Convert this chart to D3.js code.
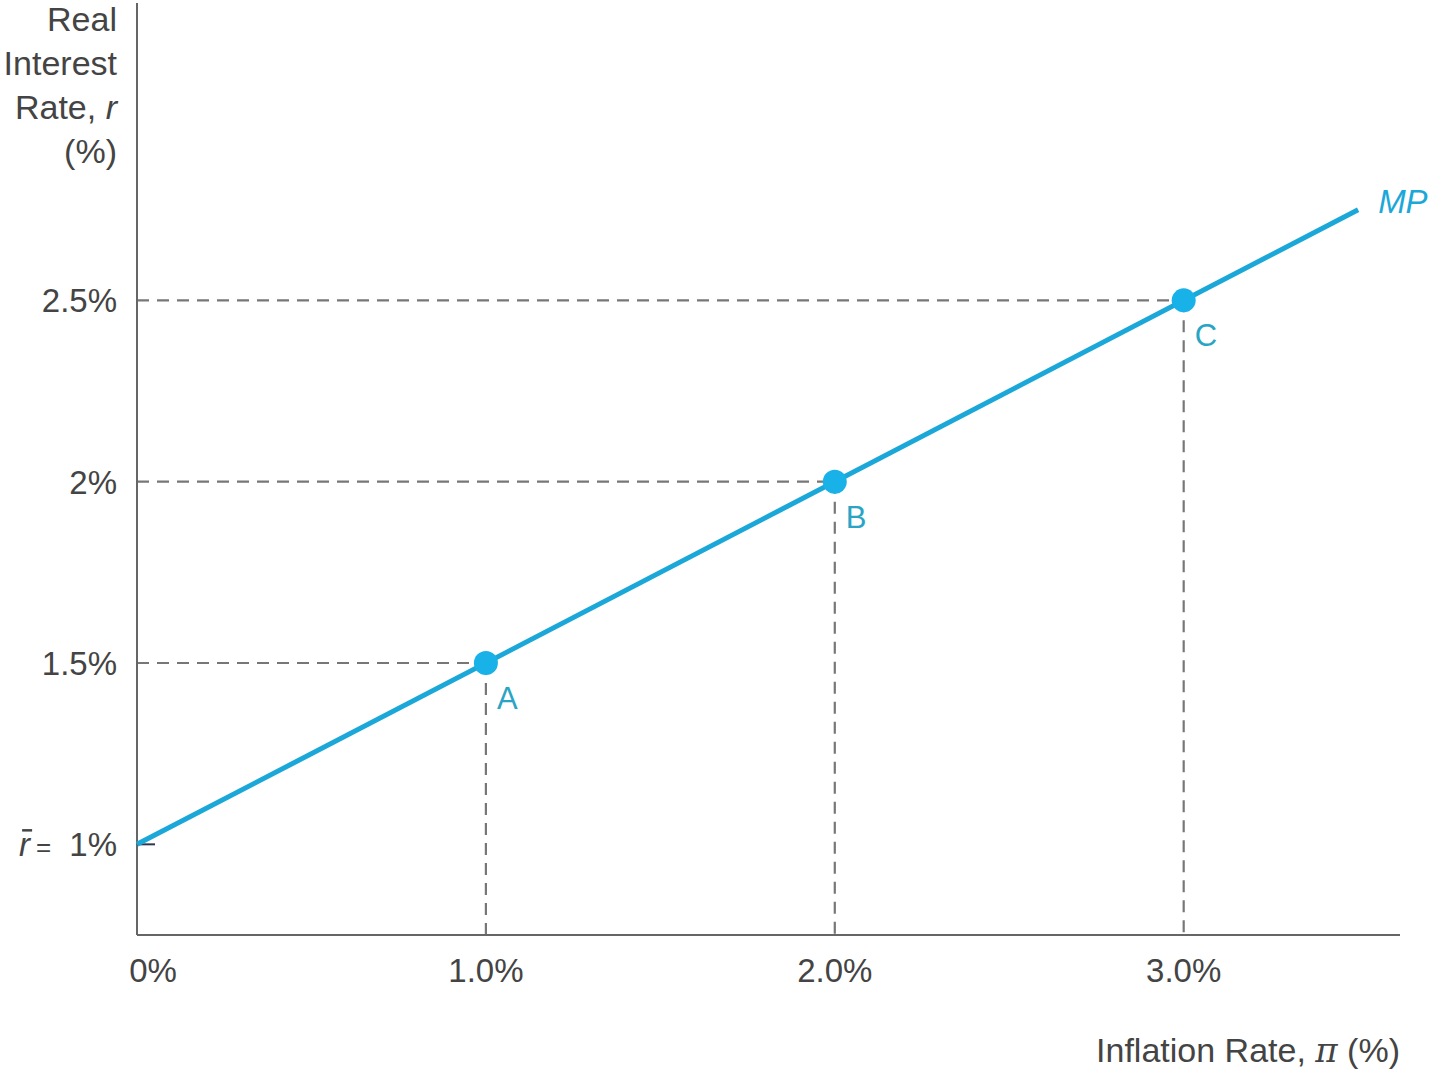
<!DOCTYPE html>
<html>
<head>
<meta charset="utf-8">
<script src="https://cdn.jsdelivr.net/npm/d3@7"></script>
<style>
  html, body { margin: 0; padding: 0; background: #fff; }
  svg { display: block; font-family: "Liberation Sans", Arial, sans-serif; }
</style>
</head>
<body>
<svg id="chart" width="1440" height="1071"></svg>
<script>
// data
const mpLine = [[0, 1], [3.5, 2.75]];          // MP curve: [inflation, real rate]
const points = [
  { name: "A", pi: 1, r: 1.5 },
  { name: "B", pi: 2, r: 2 },
  { name: "C", pi: 3, r: 2.5 }
];
const xTicks = [0, 1, 2, 3];
const xTickLabels = ["0%", "1.0%", "2.0%", "3.0%"];
const yTicks = [1.5, 2, 2.5];
const yTickLabels = ["1.5%", "2%", "2.5%"];
const rBar = 1;
const yTitle = ["Real", "Interest", "Rate, ", "(%)"];

const blue = "#1ba8d9";
const dotBlue = "#18b2e8";
const labelBlue = "#2aa4c4";
const gray = "#666";
const textGray = "#444";
const fs = 33;

const svg = d3.select("#chart");

const x = d3.scaleLinear().domain([0, 3.62]).range([137, 1400]);
const y = d3.scaleLinear().domain([0.75, 3.32]).range([935, 3]);

// dashed guides
const guides = svg.append("g")
    .attr("stroke", "#777").attr("stroke-width", 2.2).attr("stroke-dasharray", "12,8");
points.forEach(p => {
  guides.append("line").attr("x1", x(0)).attr("x2", x(p.pi)).attr("y1", y(p.r)).attr("y2", y(p.r));
  guides.append("line").attr("x1", x(p.pi)).attr("x2", x(p.pi)).attr("y1", y(p.r)).attr("y2", y.range()[0]);
});

// axes
svg.append("line").attr("x1", x(0)).attr("x2", x(0)).attr("y1", y.range()[1]).attr("y2", y.range()[0])
    .attr("stroke", gray).attr("stroke-width", 2);
svg.append("line").attr("x1", x(0)).attr("x2", x.range()[1]).attr("y1", y.range()[0]).attr("y2", y.range()[0])
    .attr("stroke", gray).attr("stroke-width", 2);
// small tick at r-bar
svg.append("line").attr("x1", x(0)).attr("x2", x(0) + 18).attr("y1", y(rBar)).attr("y2", y(rBar))
    .attr("stroke", "#335").attr("stroke-width", 2);

// tick labels
svg.append("g").selectAll("text").data(xTicks).join("text")
    .attr("x", d => x(d) + (d === 0 ? 16 : 0)).attr("y", 982)
    .attr("text-anchor", "middle").attr("font-size", fs).attr("fill", textGray)
    .text((d, i) => xTickLabels[i]);

svg.append("g").selectAll("text").data(yTicks).join("text")
    .attr("x", 117).attr("y", d => y(d) + 12)
    .attr("text-anchor", "end").attr("font-size", fs).attr("fill", textGray)
    .text((d, i) => yTickLabels[i]);

const rLabel = svg.append("text").attr("x", 117).attr("y", y(rBar) + 12)
    .attr("text-anchor", "end").attr("font-size", fs).attr("fill", textGray);
rLabel.append("tspan").attr("font-style", "italic").text("r");
rLabel.append("tspan").attr("font-size", 26).attr("dx", 6).text("=");
rLabel.append("tspan").attr("dx", 18).text("1%");
// bar over r
const rBox = rLabel.node().getExtentOfChar(0);
svg.append("line")
    .attr("x1", rBox.x + 3).attr("x2", rBox.x + rBox.width + 2)
    .attr("y1", y(rBar) - 14).attr("y2", y(rBar) - 14)
    .attr("stroke", textGray).attr("stroke-width", 2.5);

// axis titles
const yt = svg.append("g").attr("font-size", fs + 1).attr("fill", textGray).attr("text-anchor", "end");
yTitle.forEach((t, i) => {
  const tx = yt.append("text").attr("x", 117).attr("y", 31 + i * 44);
  tx.append("tspan").text(t);
  if (i === 2) tx.append("tspan").attr("font-style", "italic").text("r");
});

const xt = svg.append("text").attr("x", 1400).attr("y", 1062)
    .attr("text-anchor", "end").attr("font-size", fs + 1).attr("fill", textGray);
xt.append("tspan").text("Inflation Rate, ");
xt.append("tspan").attr("font-family", "DejaVu Serif, serif").attr("font-style", "italic").text("π");
xt.append("tspan").text(" (%)");

// MP line
svg.append("path").datum(mpLine)
    .attr("d", d3.line().x(d => x(d[0])).y(d => y(d[1])))
    .attr("fill", "none").attr("stroke", blue).attr("stroke-width", 5);

svg.append("text").attr("x", x(3.5) + 20).attr("y", y(2.75) + 3)
    .attr("font-size", fs).attr("font-style", "italic").attr("fill", blue).text("MP");

// points
svg.append("g").selectAll("circle").data(points).join("circle")
    .attr("cx", d => x(d.pi)).attr("cy", d => y(d.r)).attr("r", 12).attr("fill", dotBlue);

svg.append("g").selectAll("text").data(points).join("text")
    .attr("x", d => x(d.pi) + 11).attr("y", d => y(d.r) + 46)
    .attr("font-size", fs - 2).attr("fill", labelBlue).text(d => d.name);
</script>
</body>
</html>
